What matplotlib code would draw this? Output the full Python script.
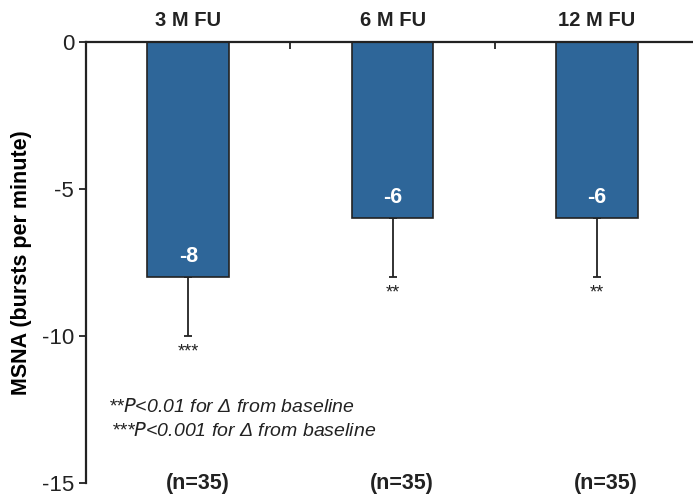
import numpy as np
import matplotlib.pyplot as plt

plt.rcParams['font.family'] = ['Liberation Sans', 'DejaVu Sans']

groups = ['3 M FU', '6 M FU', '12 M FU']
change = [-8, -6, -6]
err_low = [2, 2, 2]
stars = ['***', '**', '**']
n_labels = ['(n=35)', '(n=35)', '(n=35)']
notes = ['**$P$<0.01 for Δ from baseline', '***$P$<0.001 for Δ from baseline']

fig = plt.figure(figsize=(6.93, 4.96), dpi=100)
ax = fig.add_axes([0.1241, 0.0262, 0.8759, 0.8891])

x = np.arange(len(groups))
ax.bar(x, change, width=0.4, color='#2e6699', edgecolor='#222222', linewidth=1.2, zorder=2)
ax.errorbar(x, change, yerr=[err_low, [0, 0, 0]], fmt='none', ecolor='#222222',
            elinewidth=1.3, capsize=3, capthick=1.3, zorder=1)

for xi, v, e, s, nl in zip(x, change, err_low, stars, n_labels):
    ax.text(xi, v + 0.7, str(v), ha='center', va='center', color='white',
            fontsize=15.5, fontweight='bold')
    ax.text(xi, v - e - 0.55, s, ha='center', va='center', fontsize=13, color='#222222')
    ax.text(xi + 0.045, -15, nl, ha='center', va='center', fontsize=15.5, fontweight='bold',
            color='#222222')

ax.set_xlim(-0.5, 2.47)
ax.set_ylim(-15, 0)
ax.set_yticks([0, -5, -10, -15])
ax.set_yticklabels(['0', '-5', '-10', '-15'])
ax.tick_params(axis='y', labelsize=16, length=5, width=1.3, colors='#222222')

ax.xaxis.tick_top()
ax.set_xticks(x)
ax.set_xticklabels(groups, fontsize=14.5, fontweight='bold')
ax.set_xticks([0.5, 1.5], minor=True)
ax.tick_params(axis='x', which='major', length=0, pad=9, colors='#222222')
ax.tick_params(axis='x', which='minor', direction='in', length=5, width=1.3, color='#222222')

ax.spines['bottom'].set_visible(False)
ax.spines['right'].set_visible(False)
for sp in ['top', 'left']:
    ax.spines[sp].set_linewidth(1.6)
    ax.spines[sp].set_color('#222222')

ax.set_ylabel('MSNA (bursts per minute)', fontsize=15.5, fontweight='bold', labelpad=7)

ax.text(-0.39, -12.4, notes[0], fontsize=14, style='italic', color='#222222', va='center')
ax.text(-0.38, -13.22, notes[1], fontsize=14, style='italic', color='#222222', va='center')

fig.savefig('out.png', dpi=100)
